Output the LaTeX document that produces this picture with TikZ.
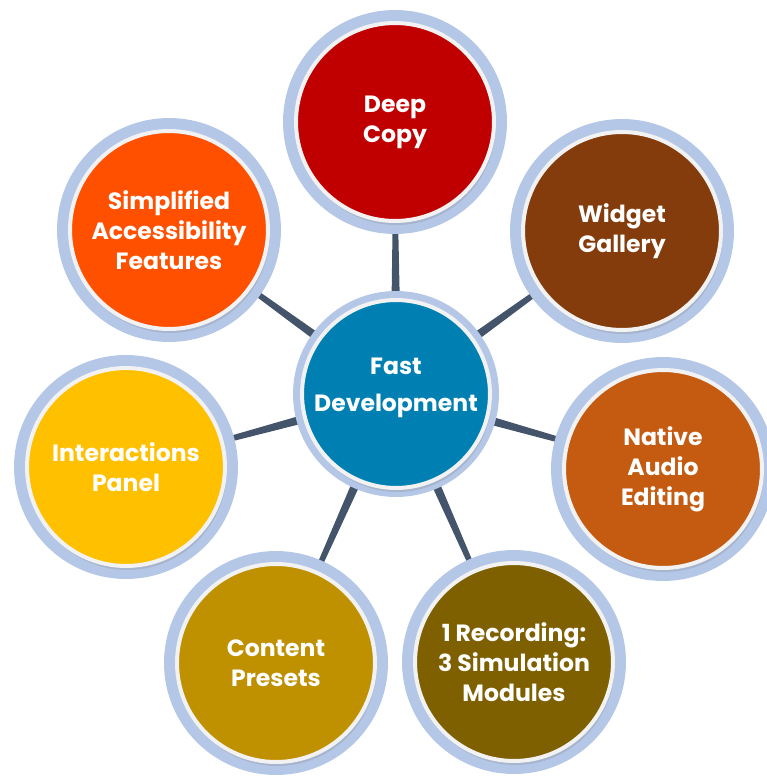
\documentclass[tikz,border=0pt]{standalone}
\usepackage{fontspec}
\newfontfamily\bubblefont{Poppins}
\usetikzlibrary{calc,backgrounds,shadows}
\definecolor{ringblue}{HTML}{B4C7E7}
\definecolor{ringwhite}{HTML}{F2F2F2}
\definecolor{spoke}{HTML}{44546A}
\definecolor{hubblue}{HTML}{0080B2}
\definecolor{copyred}{HTML}{C00000}
\definecolor{widgetbrown}{HTML}{843C0C}
\definecolor{audioorange}{HTML}{C55A11}
\definecolor{recordolive}{HTML}{7F6000}
\definecolor{presetgold}{HTML}{BF9000}
\definecolor{panelyellow}{HTML}{FFC000}
\definecolor{accessorange}{HTML}{FF5000}

\begin{document}
\begin{tikzpicture}[x=0.02cm,y=-0.02cm,
    disc/.style={circle, inner sep=0pt, draw=ringwhite, line width=0.08cm,
        text=white, align=center, font=\bubblefont\bfseries\fontsize{13.4}{17}\selectfont},
    bubble/.style={disc, minimum size=3.96cm, fill=#1,
        preaction={draw=ringblue, line width=0.52cm},
        drop shadow={opacity=0.25, shadow xshift=0.03cm, shadow yshift=-0.08cm}},
    hub/.style={disc, minimum size=3.76cm, fill=hubblue,
        preaction={draw=ringblue, line width=0.36cm},
        drop shadow={opacity=0.25, shadow xshift=0.03cm, shadow yshift=-0.08cm}}]
\useasboundingbox (0,0) rectangle (766,776);

\node[hub] (hub) at (396,394) {Fast\\[4pt]Development\\[-6pt]\mbox{}};
\node[bubble=copyred] (copy) at (395,122) {Deep\\Copy};
\node[bubble=widgetbrown] (widget) at (622,231) {Widget\\Gallery};
\node[bubble=audioorange] (audio) at (663,469) {Native\\Audio\\Editing};
\node[bubble=recordolive] (record) at (514,662) {1 Recording:\\3 Simulation\\Modules};
\node[bubble=presetgold] (presets) at (276,663) {Content\\Presets};
\node[bubble=panelyellow] (panel) at (126,467) {Interactions\\Panel};
\node[bubble=accessorange] (access) at (169,230) {Simplified\\Accessibility\\Features};

% spokes, thicker at the hub
\begin{pgfonlayer}{background}
\foreach \n in {copy,widget,audio,record,presets,panel,access}
  \fill[spoke] ($(hub.center)!0.115cm!90:(\n.center)$) -- ($(\n.center)!0.02cm!-90:(hub.center)$)
    -- ($(\n.center)!0.02cm!90:(hub.center)$) -- ($(hub.center)!0.115cm!-90:(\n.center)$) -- cycle;
\end{pgfonlayer}
\end{tikzpicture}
\end{document}
